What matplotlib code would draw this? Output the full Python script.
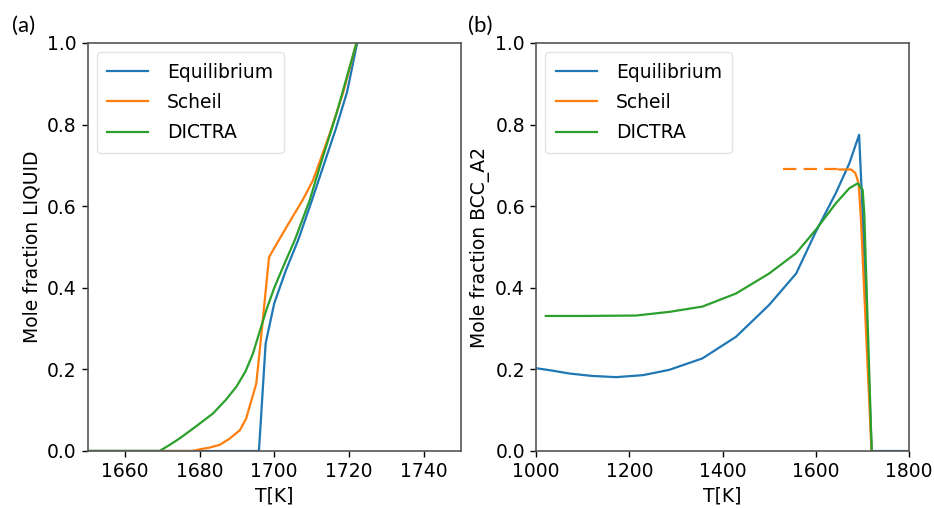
import matplotlib
matplotlib.use("Agg")
import matplotlib.pyplot as plt

# ---------- data: panel (a) LIQUID ----------
T_eq_a = [1650, 1695.9, 1697.7, 1700.0, 1703.0, 1706.4, 1710.0, 1713.1, 1716.5, 1719.5, 1722.2]
eq_a = [0, 0, 0.264, 0.362, 0.44, 0.517, 0.612, 0.697, 0.79, 0.88, 1.0]

T_sch_a = [1650, 1678, 1680, 1682.5, 1685.4, 1688.0, 1690.8, 1692.5, 1693.4, 1694.4, 1695.2, 1696.6, 1698.6,
           1701.5, 1704.0, 1707.6, 1710.4, 1714.9, 1718.5, 1722.0]
sch_a = [0, 0, 0.004, 0.008, 0.015, 0.03, 0.051, 0.08, 0.109, 0.14, 0.166, 0.29, 0.475,
         0.521, 0.56, 0.615, 0.664, 0.779, 0.88, 1.0]

T_dic_a = [1650, 1669.3, 1672.0, 1674.7, 1679.0, 1683.6, 1687.0, 1689.9, 1692.3, 1694.3, 1696.0, 1697.9,
           1700.0, 1702.4, 1705.5, 1709.5, 1712.2, 1716.7, 1722.0]
dic_a = [0, 0, 0.015, 0.031, 0.06, 0.092, 0.125, 0.158, 0.195, 0.239, 0.29, 0.346,
         0.40, 0.452, 0.517, 0.615, 0.697, 0.828, 1.0]

# ---------- data: panel (b) BCC_A2 ----------
T_eq_b = [1000, 1035, 1071, 1120, 1172, 1230, 1286, 1357, 1429, 1500, 1558, 1600, 1643, 1672, 1693,
          1699, 1720.0, 1800]
eq_b = [0.203, 0.197, 0.190, 0.184, 0.181, 0.186, 0.199, 0.227, 0.280, 0.358, 0.435, 0.537, 0.632,
        0.705, 0.775, 0.623, 0, 0]

T_sch_dash_b = [1529, 1650]
sch_dash_b = [0.690, 0.690]
T_sch_b = [1650, 1676, 1685, 1692, 1697, 1719.5]
sch_b = [0.690, 0.690, 0.681, 0.656, 0.566, 0]

T_dic_b = [1021, 1100, 1214, 1286, 1357, 1429, 1500, 1558, 1600, 1643, 1672, 1690, 1700.6, 1704, 1715, 1720]
dic_b = [0.331, 0.331, 0.332, 0.341, 0.354, 0.386, 0.435, 0.485, 0.542, 0.607, 0.644, 0.656, 0.640,
         0.583, 0.182, 0]

labels = ["Equilibrium", "Scheil", "DICTRA"]
xticks_a = [1660, 1680, 1700, 1720, 1740]
xticks_b = [1000, 1200, 1400, 1600, 1800]
yticks = [0.0, 0.2, 0.4, 0.6, 0.8, 1.0]

C_BLUE, C_ORANGE, C_GREEN = "#1f77b4", "#ff7f0e", "#2ca02c"
FS = 13.5
LW = 1.6

fig = plt.figure(figsize=(9.34, 5.08), dpi=100)
H = 508.0
W = 934.0
axa = fig.add_axes([87.5 / W, (H - 451) / H, (461 - 87.5) / W, (451 - 43) / H])
axb = fig.add_axes([536 / W, (H - 451) / H, (909 - 536) / W, (451 - 43) / H])

# panel a
axa.plot(T_eq_a, eq_a, color=C_BLUE, lw=LW, label=labels[0])
axa.plot(T_sch_a, sch_a, color=C_ORANGE, lw=LW, label=labels[1])
axa.plot(T_dic_a, dic_a, color=C_GREEN, lw=LW, label=labels[2])
axa.set_xlim(1650, 1750)
axa.set_ylim(0, 1.0)
axa.set_xticks(xticks_a)
axa.set_yticks(yticks)
axa.set_xlabel("T[K]", fontsize=FS)
axa.set_ylabel("Mole fraction LIQUID", fontsize=FS)

# panel b
axb.plot(T_eq_b, eq_b, color=C_BLUE, lw=LW, label=labels[0])
axb.plot(T_sch_b, sch_b, color=C_ORANGE, lw=LW, label=labels[1])
axb.plot(T_sch_dash_b, sch_dash_b, color=C_ORANGE, lw=LW, dashes=(6, 3.3))
axb.plot(T_dic_b, dic_b, color=C_GREEN, lw=LW, label=labels[2])
axb.set_xlim(1000, 1800)
axb.set_ylim(0, 1.0)
axb.set_xticks(xticks_b)
axb.set_yticks(yticks)
axb.set_xlabel("T[K]", fontsize=FS)
axb.set_ylabel("Mole fraction BCC_A2", fontsize=FS)

for ax in (axa, axb):
    ax.tick_params(labelsize=FS, width=1.0, length=4.5)
    for s in ax.spines.values():
        s.set_color("#555555")
        s.set_linewidth(1.2)
    leg = ax.legend(loc="upper left", fontsize=FS, handlelength=2.2, borderpad=0.55,
                    labelspacing=0.6, handletextpad=1.0)
    leg.get_frame().set_edgecolor("#dddddd")

fig.text(12 / W, 1 - 26 / H, "(a)", fontsize=16, family=["Lato", "DejaVu Sans"], va="center", ha="left")
fig.text(468 / W, 1 - 26 / H, "(b)", fontsize=16, family=["Lato", "DejaVu Sans"], va="center", ha="left")

fig.savefig("out.png", dpi=100)
